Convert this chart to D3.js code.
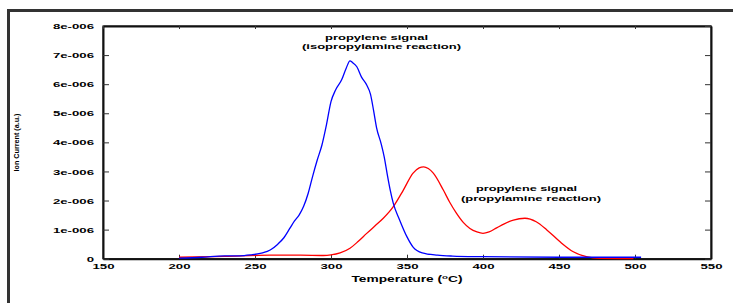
<!DOCTYPE html>
<html>
<head>
<meta charset="utf-8">
<script src="https://cdn.jsdelivr.net/npm/d3@7"></script>
<style>
  body { margin: 0; background: #fff; }
  svg { display: block; }
  text { font-family: "Liberation Sans", Arial, sans-serif; font-weight: bold; fill: #000; }
</style>
</head>
<body>
<svg width="733" height="303"></svg>
<script>
// x ticks (temperature) and y ticks (ion current, in units of 1e-6)
let xTicks = [150, 200, 250, 300, 350, 400, 450, 500, 550];
let yTicks = [0, 1, 2, 3, 4, 5, 6, 7, 8];
let yTickLabels = ["0", "1e-006", "2e-006", "3e-006", "4e-006", "5e-006", "6e-006", "7e-006", "8e-006"];

// isopropylamine reaction (blue)
let blueTemp = [200, 215, 230, 240, 247, 255, 260, 265, 269, 273, 276, 279, 282, 285, 288, 291, 294, 297, 300, 303, 307, 310, 312.5, 314, 317, 320, 323.5, 326, 328, 330, 333, 335, 337, 339, 341, 345, 350, 354, 360, 370, 380, 400, 450, 500, 504];
let blueCurrent = [0.02, 0.05, 0.1, 0.1, 0.13, 0.2, 0.3, 0.5, 0.72, 1.05, 1.3, 1.5, 1.8, 2.25, 2.85, 3.4, 3.9, 4.6, 5.4, 5.8, 6.15, 6.55, 6.8, 6.75, 6.6, 6.25, 5.97, 5.65, 5.1, 4.5, 3.95, 3.5, 2.9, 2.35, 1.9, 1.35, 0.75, 0.4, 0.2, 0.12, 0.09, 0.07, 0.05, 0.05, 0.05];

// propylamine reaction (red)
let redTemp = [200, 230, 260, 280, 295, 300, 306, 312.5, 318, 323.5, 329, 334.4, 341, 347.6, 354, 358, 361, 364, 367.3, 373.9, 378, 382.6, 387, 391.4, 396, 400, 404, 409, 414, 420, 427.6, 435, 442, 450.7, 459.4, 468, 477, 499];
let redCurrent = [0.05, 0.08, 0.12, 0.12, 0.11, 0.13, 0.2, 0.36, 0.6, 0.87, 1.13, 1.39, 1.79, 2.36, 2.94, 3.12, 3.16, 3.1, 2.94, 2.36, 1.95, 1.56, 1.25, 1.04, 0.92, 0.87, 0.92, 1.06, 1.2, 1.33, 1.39, 1.27, 0.99, 0.58, 0.24, 0.07, 0.01, 0.0];

let svg = d3.select("svg");
let SX = 1.65; // text in the original is stretched sideways

let margin = { top: 26, right: 22, bottom: 44.3, left: 103 };
let plotWidth = 733 - margin.left - margin.right;
let plotHeight = 303 - margin.top - margin.bottom;

// outer frame (cut off at right and bottom)
svg.append("path")
  .attr("d", "M8.5,303V10.5H733")
  .attr("fill", "none")
  .attr("stroke", "#333")
  .attr("stroke-width", 3);

let plot = svg.append("g").attr("transform", "translate(" + margin.left + "," + margin.top + ")");

let x = d3.scaleLinear().domain([150, 550]).range([0, plotWidth]);
let y = d3.scaleLinear().domain([0, 8]).range([plotHeight, 0]);

// box
plot.append("rect")
  .attr("width", plotWidth).attr("height", plotHeight)
  .attr("fill", "none").attr("stroke", "#222").attr("stroke-width", 1.2);

let xAxis = d3.axisBottom(x).tickValues(xTicks).tickSizeInner(-4).tickSizeOuter(0).tickPadding(5);
let yAxis = d3.axisLeft(y).tickValues(yTicks).tickSizeInner(-6).tickSizeOuter(0).tickPadding(9)
  .tickFormat((d, i) => yTickLabels[i]);

let xGroup = plot.append("g").attr("transform", "translate(0," + plotHeight + ")").call(xAxis);
let yGroup = plot.append("g").call(yAxis);
plot.append("g").call(d3.axisTop(x).tickValues(xTicks).tickSizeInner(-3).tickSizeOuter(0).tickFormat(""));
plot.append("g").attr("transform", "translate(" + plotWidth + ",0)")
  .call(d3.axisRight(y).tickValues(yTicks).tickSizeInner(-6).tickSizeOuter(0).tickFormat(""));

plot.selectAll(".domain").attr("stroke", "#111").attr("stroke-width", 2);
plot.selectAll(".tick line").attr("stroke", "#333");

// tick groups are translated, so the sideways stretch stays local to each label
xGroup.selectAll("text")
  .attr("font-size", 8)
  .attr("font-family", null)
  .attr("transform", "scale(" + SX + ",1)");
yGroup.selectAll("text")
  .attr("font-size", 8)
  .attr("font-family", null)
  .attr("x", -9 / SX)
  .attr("transform", "scale(" + SX + ",1)");

// line curves
let line = d3.line()
  .x(d => x(d[0]))
  .y(d => y(d[1]))
  .curve(d3.curveMonotoneX);

plot.append("path")
  .datum(redTemp.map((t, i) => [t, redCurrent[i]]))
  .attr("d", line)
  .attr("fill", "none")
  .attr("stroke", "#ff0000")
  .attr("stroke-width", 1.3);

plot.append("path")
  .datum(blueTemp.map((t, i) => [t, blueCurrent[i]]))
  .attr("d", line)
  .attr("fill", "none")
  .attr("stroke", "#0000ff")
  .attr("stroke-width", 1.3);

// labels
function label(txt, cx, cy, w) {
  svg.append("text")
    .attr("x", cx).attr("y", cy)
    .attr("text-anchor", "middle")
    .attr("dominant-baseline", "central")
    .attr("font-size", 8)
    .attr("textLength", w)
    .attr("lengthAdjust", "spacingAndGlyphs")
    .text(txt);
}
label("propylene signal", 376.5, 37.5, 103);
label("(isopropylamine reaction)", 381.5, 46.5, 159);
label("propylene signal", 526.5, 188, 101);
label("(propylamine reaction)", 531, 198.5, 140);

// x axis title
let xt = svg.append("text")
  .attr("x", 407).attr("y", 282)
  .attr("text-anchor", "middle")
  .attr("font-size", 8.5)
  .attr("textLength", 111)
  .attr("lengthAdjust", "spacingAndGlyphs");
xt.append("tspan").text("Temperature (");
xt.append("tspan").attr("font-size", 6).attr("dy", -3).text("o");
xt.append("tspan").attr("dy", 3).text("C)");

// y axis title
svg.append("text")
  .attr("transform", "translate(16.5,142.5) rotate(-90)")
  .attr("text-anchor", "middle")
  .attr("dominant-baseline", "central")
  .attr("font-size", 7.5)
  .attr("textLength", 58)
  .attr("lengthAdjust", "spacingAndGlyphs")
  .text("Ion Current (a.u.)");
</script>
</body>
</html>
